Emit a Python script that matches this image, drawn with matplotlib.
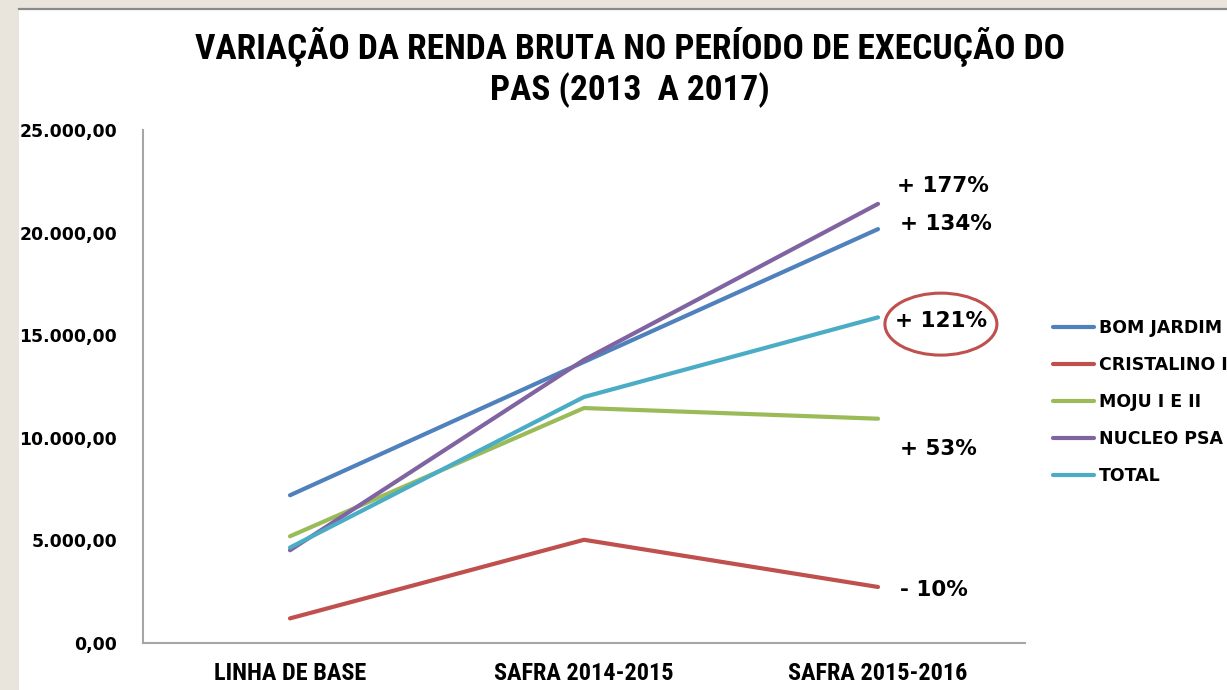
import matplotlib
matplotlib.use("Agg")
import matplotlib.pyplot as plt
from matplotlib import font_manager as fm
from matplotlib.patches import Rectangle, Ellipse
from matplotlib.lines import Line2D
from matplotlib.ticker import FuncFormatter, MultipleLocator

categories = ["LINHA DE BASE", "SAFRA 2014-2015", "SAFRA 2015-2016"]
series_names = ["BOM JARDIM", "CRISTALINO I", "MOJU I E II", "NUCLEO PSA", "TOTAL"]
bom_jardim = [7200, 13700, 20170]
cristalino = [1200, 5030, 2730]
moju = [5200, 11450, 10930]
nucleo_psa = [4520, 13800, 21400]
total = [4650, 11990, 15870]
end_labels = ["+ 134%", "- 10%", "+ 53%", "+ 177%", "+ 121%"]
title = "VARIAÇÃO DA RENDA BRUTA NO PERÍODO DE EXECUÇÃO DO\nPAS (2013  A 2017)"

values = [bom_jardim, cristalino, moju, nucleo_psa, total]
colors = ["#4F81BD", "#C0504D", "#9BBB59", "#8064A2", "#4BACC6"]
label_offsets = [(22, 5), (22, -3), (22, -30), (19, 18), (17, -4)]

fonts = fm.fontManager.ttflist
names = {f.name for f in fonts}
narrow_kw = None
for cand in ["Liberation Sans Narrow", "Roboto Condensed", "Open Sans Condensed", "Noto Sans Condensed"]:
    if cand in names:
        narrow_kw = {"family": cand, "stretch": "normal"}
        tsize, csize = 25.5, 17.5
        break
if narrow_kw is None:
    cond = [f for f in fonts if f.stretch in ("condensed", "semi-condensed", "extra-condensed")]
    if cond:
        f0 = cond[0]
        narrow_kw = {"family": f0.name, "stretch": f0.stretch}
        tsize, csize = 25.5, 17.5
    else:
        narrow_kw = {"family": "DejaVu Sans", "stretch": "normal"}
        tsize, csize = 21, 14

W, H = 1227, 690
fig = plt.figure(figsize=(W / 100, H / 100), dpi=100)
fig.patch.set_facecolor("#EAE5DC")

fig.patches.append(Rectangle((19 / W, 0), 1 - 19 / W, 1 - 9 / H, transform=fig.transFigure,
                             facecolor="white", edgecolor="none", zorder=-20))
fig.lines.append(Line2D([19 / W, 1], [1 - 8.5 / H, 1 - 8.5 / H], transform=fig.transFigure,
                        color="#8A8A8A", lw=1.6, zorder=-19))

ax = fig.add_axes([143 / W, (H - 643) / H, (1025 - 143) / W, (643 - 130) / H])
ax.set_facecolor("none")
x = list(range(len(categories)))
for name, vals, col in zip(series_names, values, colors):
    ax.plot(x, vals, color=col, lw=3.0, label=name, solid_capstyle="round")

for vals, lab, off in zip(values, end_labels, label_offsets):
    ax.annotate(lab, xy=(x[-1], vals[-1]), xytext=off, textcoords="offset pixels",
                ha="left", va="center", fontsize=15.5, fontweight="bold",
                family="DejaVu Sans", color="black", annotation_clip=False)

ell = Ellipse((2.214, 15540), 0.381, 3020, transform=ax.transData, fill=False,
              edgecolor="#C0504D", lw=2.2, clip_on=False)
ax.add_patch(ell)

ax.set_xlim(-0.5, 2.5)
ax.set_ylim(0, 25000)
ax.yaxis.set_major_locator(MultipleLocator(5000))
ax.yaxis.set_major_formatter(FuncFormatter(
    lambda v, p: f"{v:,.2f}".replace(",", "X").replace(".", ",").replace("X", ".")))
ax.set_xticks(x)
ax.set_xticklabels(categories)
for s in ["top", "right"]:
    ax.spines[s].set_visible(False)
for s in ["left", "bottom"]:
    ax.spines[s].set_color("#A6A6A6")
    ax.spines[s].set_linewidth(1.5)
ax.tick_params(axis="y", length=0, pad=18.5, labelsize=12.4)
ax.tick_params(axis="x", length=0, pad=14)
for t in ax.get_yticklabels():
    t.set_fontweight("bold")
    t.set_family("DejaVu Sans")
for t in ax.get_xticklabels():
    t.set_fontweight("bold")
    t.set_family(narrow_kw["family"])
    t.set_fontstretch(narrow_kw["stretch"])
    t.set_fontsize(csize)

leg = ax.legend(loc="center left", bbox_to_anchor=(1044 / W, 1 - 402 / H),
                bbox_transform=fig.transFigure, frameon=False, borderpad=0,
                handlelength=2.4, handletextpad=0.25, labelspacing=1.1,
                prop={"family": "DejaVu Sans", "weight": "bold", "size": 12.5})

fig.text(630 / W, 1 - 67 / H, title, ha="center", va="center", fontsize=tsize,
         fontweight="bold", family=narrow_kw["family"], fontstretch=narrow_kw["stretch"],
         linespacing=1.25)

fig.savefig("out.png", dpi=100, facecolor=fig.get_facecolor())
